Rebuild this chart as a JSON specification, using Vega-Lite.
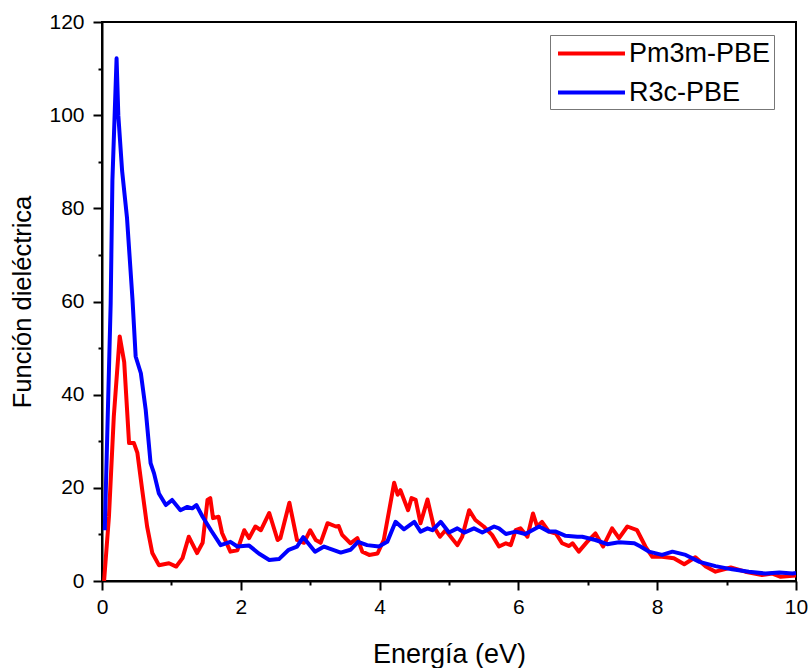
{
  "$schema": "https://vega.github.io/schema/vega-lite/v6.json",
  "width": 694,
  "height": 559,
  "autosize": {"type": "none"},
  "padding": {"left": 102, "top": 22, "right": 15, "bottom": 87},
  "background": "white",
  "config": {
    "font": "Liberation Sans",
    "view": {"stroke": "black", "strokeWidth": 2}
  },
  "data": {
    "values": [
      {"serie": "Pm3m-PBE", "energia": 0.03, "valor": 0},
      {"serie": "Pm3m-PBE", "energia": 0.1, "valor": 13.8},
      {"serie": "Pm3m-PBE", "energia": 0.17, "valor": 35.3},
      {"serie": "Pm3m-PBE", "energia": 0.255, "valor": 52.5},
      {"serie": "Pm3m-PBE", "energia": 0.32, "valor": 47},
      {"serie": "Pm3m-PBE", "energia": 0.39, "valor": 29.6},
      {"serie": "Pm3m-PBE", "energia": 0.46, "valor": 29.6},
      {"serie": "Pm3m-PBE", "energia": 0.51, "valor": 27.5},
      {"serie": "Pm3m-PBE", "energia": 0.58, "valor": 19.5},
      {"serie": "Pm3m-PBE", "energia": 0.65, "valor": 11.7},
      {"serie": "Pm3m-PBE", "energia": 0.725, "valor": 6},
      {"serie": "Pm3m-PBE", "energia": 0.82, "valor": 3.4},
      {"serie": "Pm3m-PBE", "energia": 0.965, "valor": 3.8},
      {"serie": "Pm3m-PBE", "energia": 1.07, "valor": 3.1},
      {"serie": "Pm3m-PBE", "energia": 1.16, "valor": 4.9},
      {"serie": "Pm3m-PBE", "energia": 1.25, "valor": 9.5},
      {"serie": "Pm3m-PBE", "energia": 1.37, "valor": 6},
      {"serie": "Pm3m-PBE", "energia": 1.45, "valor": 8.2},
      {"serie": "Pm3m-PBE", "energia": 1.52, "valor": 17.4},
      {"serie": "Pm3m-PBE", "energia": 1.56, "valor": 17.8},
      {"serie": "Pm3m-PBE", "energia": 1.6, "valor": 13.5},
      {"serie": "Pm3m-PBE", "energia": 1.68, "valor": 13.8},
      {"serie": "Pm3m-PBE", "energia": 1.73, "valor": 10.3},
      {"serie": "Pm3m-PBE", "energia": 1.85, "valor": 6.3},
      {"serie": "Pm3m-PBE", "energia": 1.95, "valor": 6.6},
      {"serie": "Pm3m-PBE", "energia": 2.05, "valor": 10.9},
      {"serie": "Pm3m-PBE", "energia": 2.12, "valor": 9.2},
      {"serie": "Pm3m-PBE", "energia": 2.21, "valor": 11.7},
      {"serie": "Pm3m-PBE", "energia": 2.29, "valor": 10.9},
      {"serie": "Pm3m-PBE", "energia": 2.41, "valor": 14.6},
      {"serie": "Pm3m-PBE", "energia": 2.53, "valor": 8.8},
      {"serie": "Pm3m-PBE", "energia": 2.57, "valor": 9.2},
      {"serie": "Pm3m-PBE", "energia": 2.7, "valor": 16.8},
      {"serie": "Pm3m-PBE", "energia": 2.81, "valor": 8.8},
      {"serie": "Pm3m-PBE", "energia": 2.91, "valor": 8.2},
      {"serie": "Pm3m-PBE", "energia": 3.0, "valor": 10.9},
      {"serie": "Pm3m-PBE", "energia": 3.08, "valor": 8.8},
      {"serie": "Pm3m-PBE", "energia": 3.15, "valor": 8.2},
      {"serie": "Pm3m-PBE", "energia": 3.25, "valor": 12.4},
      {"serie": "Pm3m-PBE", "energia": 3.37, "valor": 11.7},
      {"serie": "Pm3m-PBE", "energia": 3.41, "valor": 11.8},
      {"serie": "Pm3m-PBE", "energia": 3.46, "valor": 9.9},
      {"serie": "Pm3m-PBE", "energia": 3.58, "valor": 8.1},
      {"serie": "Pm3m-PBE", "energia": 3.68, "valor": 9.2},
      {"serie": "Pm3m-PBE", "energia": 3.75, "valor": 6.3},
      {"serie": "Pm3m-PBE", "energia": 3.85, "valor": 5.6},
      {"serie": "Pm3m-PBE", "energia": 3.97, "valor": 5.9},
      {"serie": "Pm3m-PBE", "energia": 4.06, "valor": 8.8},
      {"serie": "Pm3m-PBE", "energia": 4.13, "valor": 14.5},
      {"serie": "Pm3m-PBE", "energia": 4.21, "valor": 21.1},
      {"serie": "Pm3m-PBE", "energia": 4.26, "valor": 18.5},
      {"serie": "Pm3m-PBE", "energia": 4.3, "valor": 19.5},
      {"serie": "Pm3m-PBE", "energia": 4.41, "valor": 15.2},
      {"serie": "Pm3m-PBE", "energia": 4.46, "valor": 17.8},
      {"serie": "Pm3m-PBE", "energia": 4.52, "valor": 17.4},
      {"serie": "Pm3m-PBE", "energia": 4.59, "valor": 12.4},
      {"serie": "Pm3m-PBE", "energia": 4.69, "valor": 17.5},
      {"serie": "Pm3m-PBE", "energia": 4.78, "valor": 11.7},
      {"serie": "Pm3m-PBE", "energia": 4.87, "valor": 9.5},
      {"serie": "Pm3m-PBE", "energia": 4.95, "valor": 10.9},
      {"serie": "Pm3m-PBE", "energia": 5.12, "valor": 7.7},
      {"serie": "Pm3m-PBE", "energia": 5.19, "valor": 9.5},
      {"serie": "Pm3m-PBE", "energia": 5.29, "valor": 15.2},
      {"serie": "Pm3m-PBE", "energia": 5.38, "valor": 13.1},
      {"serie": "Pm3m-PBE", "energia": 5.5, "valor": 11.7},
      {"serie": "Pm3m-PBE", "energia": 5.62, "valor": 9.9},
      {"serie": "Pm3m-PBE", "energia": 5.72, "valor": 7.4},
      {"serie": "Pm3m-PBE", "energia": 5.82, "valor": 8.1},
      {"serie": "Pm3m-PBE", "energia": 5.89, "valor": 7.7},
      {"serie": "Pm3m-PBE", "energia": 5.96, "valor": 10.9},
      {"serie": "Pm3m-PBE", "energia": 6.03, "valor": 11.3},
      {"serie": "Pm3m-PBE", "energia": 6.13, "valor": 9.5},
      {"serie": "Pm3m-PBE", "energia": 6.21, "valor": 14.5},
      {"serie": "Pm3m-PBE", "energia": 6.27, "valor": 11.7},
      {"serie": "Pm3m-PBE", "energia": 6.34, "valor": 12.7},
      {"serie": "Pm3m-PBE", "energia": 6.44, "valor": 10.6},
      {"serie": "Pm3m-PBE", "energia": 6.54, "valor": 10.2},
      {"serie": "Pm3m-PBE", "energia": 6.63, "valor": 8.1},
      {"serie": "Pm3m-PBE", "energia": 6.73, "valor": 7.5},
      {"serie": "Pm3m-PBE", "energia": 6.78, "valor": 8.1},
      {"serie": "Pm3m-PBE", "energia": 6.87, "valor": 6.3},
      {"serie": "Pm3m-PBE", "energia": 6.99, "valor": 8.4},
      {"serie": "Pm3m-PBE", "energia": 7.11, "valor": 10.2},
      {"serie": "Pm3m-PBE", "energia": 7.22, "valor": 7.4},
      {"serie": "Pm3m-PBE", "energia": 7.35, "valor": 11.3},
      {"serie": "Pm3m-PBE", "energia": 7.45, "valor": 9.2},
      {"serie": "Pm3m-PBE", "energia": 7.57, "valor": 11.7},
      {"serie": "Pm3m-PBE", "energia": 7.71, "valor": 10.9},
      {"serie": "Pm3m-PBE", "energia": 7.83, "valor": 7.4},
      {"serie": "Pm3m-PBE", "energia": 7.93, "valor": 5.2},
      {"serie": "Pm3m-PBE", "energia": 8.07, "valor": 5.2},
      {"serie": "Pm3m-PBE", "energia": 8.24, "valor": 4.9},
      {"serie": "Pm3m-PBE", "energia": 8.39, "valor": 3.6},
      {"serie": "Pm3m-PBE", "energia": 8.55, "valor": 5.1},
      {"serie": "Pm3m-PBE", "energia": 8.7, "valor": 3.1},
      {"serie": "Pm3m-PBE", "energia": 8.84, "valor": 2.0},
      {"serie": "Pm3m-PBE", "energia": 9.06, "valor": 2.9},
      {"serie": "Pm3m-PBE", "energia": 9.27, "valor": 2.0},
      {"serie": "Pm3m-PBE", "energia": 9.51, "valor": 1.3},
      {"serie": "Pm3m-PBE", "energia": 9.66, "valor": 1.6},
      {"serie": "Pm3m-PBE", "energia": 9.78, "valor": 0.9},
      {"serie": "Pm3m-PBE", "energia": 9.95, "valor": 1.1},
      {"serie": "Pm3m-PBE", "energia": 10.0, "valor": 1.2},
      {"serie": "R3c-PBE", "energia": 0.04, "valor": 10.9},
      {"serie": "R3c-PBE", "energia": 0.125, "valor": 59.6},
      {"serie": "R3c-PBE", "energia": 0.15, "valor": 86},
      {"serie": "R3c-PBE", "energia": 0.21, "valor": 112.2},
      {"serie": "R3c-PBE", "energia": 0.235, "valor": 100},
      {"serie": "R3c-PBE", "energia": 0.29, "valor": 88},
      {"serie": "R3c-PBE", "energia": 0.36, "valor": 78},
      {"serie": "R3c-PBE", "energia": 0.44, "valor": 60.3},
      {"serie": "R3c-PBE", "energia": 0.485, "valor": 48.2},
      {"serie": "R3c-PBE", "energia": 0.56, "valor": 44.6},
      {"serie": "R3c-PBE", "energia": 0.63, "valor": 36.7},
      {"serie": "R3c-PBE", "energia": 0.7, "valor": 25.3},
      {"serie": "R3c-PBE", "energia": 0.75, "valor": 23.1},
      {"serie": "R3c-PBE", "energia": 0.82, "valor": 18.8},
      {"serie": "R3c-PBE", "energia": 0.92, "valor": 16.3},
      {"serie": "R3c-PBE", "energia": 1.01, "valor": 17.4},
      {"serie": "R3c-PBE", "energia": 1.13, "valor": 15.2},
      {"serie": "R3c-PBE", "energia": 1.23, "valor": 15.9},
      {"serie": "R3c-PBE", "energia": 1.3, "valor": 15.6},
      {"serie": "R3c-PBE", "energia": 1.36, "valor": 16.3},
      {"serie": "R3c-PBE", "energia": 1.45, "valor": 13.8},
      {"serie": "R3c-PBE", "energia": 1.57, "valor": 10.9},
      {"serie": "R3c-PBE", "energia": 1.71, "valor": 7.7},
      {"serie": "R3c-PBE", "energia": 1.85, "valor": 8.4},
      {"serie": "R3c-PBE", "energia": 1.95, "valor": 7.4},
      {"serie": "R3c-PBE", "energia": 2.12, "valor": 7.6},
      {"serie": "R3c-PBE", "energia": 2.26, "valor": 5.9},
      {"serie": "R3c-PBE", "energia": 2.41, "valor": 4.5},
      {"serie": "R3c-PBE", "energia": 2.55, "valor": 4.7},
      {"serie": "R3c-PBE", "energia": 2.69, "valor": 6.7},
      {"serie": "R3c-PBE", "energia": 2.81, "valor": 7.4},
      {"serie": "R3c-PBE", "energia": 2.9, "valor": 9.4},
      {"serie": "R3c-PBE", "energia": 3.07, "valor": 6.3},
      {"serie": "R3c-PBE", "energia": 3.2, "valor": 7.4},
      {"serie": "R3c-PBE", "energia": 3.27, "valor": 7.0},
      {"serie": "R3c-PBE", "energia": 3.44, "valor": 6.1},
      {"serie": "R3c-PBE", "energia": 3.58, "valor": 6.7},
      {"serie": "R3c-PBE", "energia": 3.69, "valor": 8.4},
      {"serie": "R3c-PBE", "energia": 3.82, "valor": 7.7},
      {"serie": "R3c-PBE", "energia": 3.99, "valor": 7.4},
      {"serie": "R3c-PBE", "energia": 4.11, "valor": 8.4},
      {"serie": "R3c-PBE", "energia": 4.23, "valor": 12.7},
      {"serie": "R3c-PBE", "energia": 4.35, "valor": 11.1},
      {"serie": "R3c-PBE", "energia": 4.5, "valor": 12.7},
      {"serie": "R3c-PBE", "energia": 4.59, "valor": 10.6},
      {"serie": "R3c-PBE", "energia": 4.69, "valor": 11.3},
      {"serie": "R3c-PBE", "energia": 4.76, "valor": 10.9},
      {"serie": "R3c-PBE", "energia": 4.88, "valor": 12.7},
      {"serie": "R3c-PBE", "energia": 5.0, "valor": 10.4},
      {"serie": "R3c-PBE", "energia": 5.12, "valor": 11.3},
      {"serie": "R3c-PBE", "energia": 5.22, "valor": 10.4},
      {"serie": "R3c-PBE", "energia": 5.36, "valor": 11.3},
      {"serie": "R3c-PBE", "energia": 5.48, "valor": 10.4},
      {"serie": "R3c-PBE", "energia": 5.65, "valor": 11.7},
      {"serie": "R3c-PBE", "energia": 5.72, "valor": 11.3},
      {"serie": "R3c-PBE", "energia": 5.82, "valor": 10.1},
      {"serie": "R3c-PBE", "energia": 5.96, "valor": 10.6},
      {"serie": "R3c-PBE", "energia": 6.1, "valor": 10.1},
      {"serie": "R3c-PBE", "energia": 6.3, "valor": 11.7},
      {"serie": "R3c-PBE", "energia": 6.44, "valor": 10.6},
      {"serie": "R3c-PBE", "energia": 6.54, "valor": 10.6},
      {"serie": "R3c-PBE", "energia": 6.68, "valor": 9.7},
      {"serie": "R3c-PBE", "energia": 6.85, "valor": 9.5},
      {"serie": "R3c-PBE", "energia": 6.92, "valor": 9.5},
      {"serie": "R3c-PBE", "energia": 7.11, "valor": 8.8},
      {"serie": "R3c-PBE", "energia": 7.28, "valor": 7.9},
      {"serie": "R3c-PBE", "energia": 7.45, "valor": 8.3},
      {"serie": "R3c-PBE", "energia": 7.67, "valor": 8.1},
      {"serie": "R3c-PBE", "energia": 7.76, "valor": 7.4},
      {"serie": "R3c-PBE", "energia": 7.88, "valor": 6.3},
      {"serie": "R3c-PBE", "energia": 8.07, "valor": 5.6},
      {"serie": "R3c-PBE", "energia": 8.22, "valor": 6.3},
      {"serie": "R3c-PBE", "energia": 8.41, "valor": 5.6},
      {"serie": "R3c-PBE", "energia": 8.61, "valor": 4.1},
      {"serie": "R3c-PBE", "energia": 8.84, "valor": 3.2},
      {"serie": "R3c-PBE", "energia": 9.08, "valor": 2.5},
      {"serie": "R3c-PBE", "energia": 9.32, "valor": 2.0},
      {"serie": "R3c-PBE", "energia": 9.56, "valor": 1.6},
      {"serie": "R3c-PBE", "energia": 9.76, "valor": 1.8},
      {"serie": "R3c-PBE", "energia": 9.95, "valor": 1.6},
      {"serie": "R3c-PBE", "energia": 10.0, "valor": 1.7}
    ]
  },
  "mark": {"type": "line", "strokeWidth": 4, "strokeJoin": "round", "clip": true},
  "encoding": {
    "x": {
      "field": "energia",
      "type": "quantitative",
      "scale": {"domain": [0, 10], "nice": false, "zero": false},
      "axis": {
        "title": "Energía (eV)",
        "titleFontSize": 27,
        "titleFontWeight": "normal",
        "titleColor": "black",
        "titlePadding": 24,
        "values": [0, 1, 2, 3, 4, 5, 6, 7, 8, 9, 10],
        "labelExpr": "datum.value % 2 == 0 ? datum.label : ''",
        "labelFontSize": 21,
        "labelColor": "black",
        "labelPadding": 6,
        "labelFlush": false,
        "grid": false,
        "domainColor": "black",
        "domainWidth": 2,
        "tickColor": "black",
        "tickWidth": 2,
        "tickSize": {"condition": {"test": "datum.value % 2 == 0", "value": 9}, "value": 4}
      }
    },
    "y": {
      "field": "valor",
      "type": "quantitative",
      "scale": {"domain": [0, 120], "nice": false},
      "axis": {
        "title": "Función dieléctrica",
        "titleFontSize": 25.5,
        "titleFontWeight": "normal",
        "titleColor": "black",
        "titlePadding": 13,
        "values": [0, 10, 20, 30, 40, 50, 60, 70, 80, 90, 100, 110, 120],
        "labelExpr": "datum.value % 20 == 0 ? datum.label : ''",
        "labelFontSize": 21,
        "labelColor": "black",
        "labelPadding": 9,
        "labelFlush": false,
        "grid": false,
        "domainColor": "black",
        "domainWidth": 2,
        "tickColor": "black",
        "tickWidth": 2,
        "tickSize": {"condition": {"test": "datum.value % 20 == 0", "value": 9}, "value": 4}
      }
    },
    "color": {
      "field": "serie",
      "type": "nominal",
      "scale": {"domain": ["Pm3m-PBE", "R3c-PBE"], "range": ["#ff0000", "#0000ff"]},
      "legend": {
        "title": null,
        "orient": "none",
        "legendX": 448,
        "legendY": 13,
        "symbolType": "M-2.5,0H2.5",
        "symbolSize": 718,
        "symbolStrokeWidth": 4,
        "symbolOffset": 23,
        "labelOffset": 22,
        "labelFontSize": 27,
        "labelColor": "black",
        "rowPadding": 10,
        "padding": 3,
        "strokeColor": "#777777",
        "fillColor": "white"
      }
    }
  }
}
